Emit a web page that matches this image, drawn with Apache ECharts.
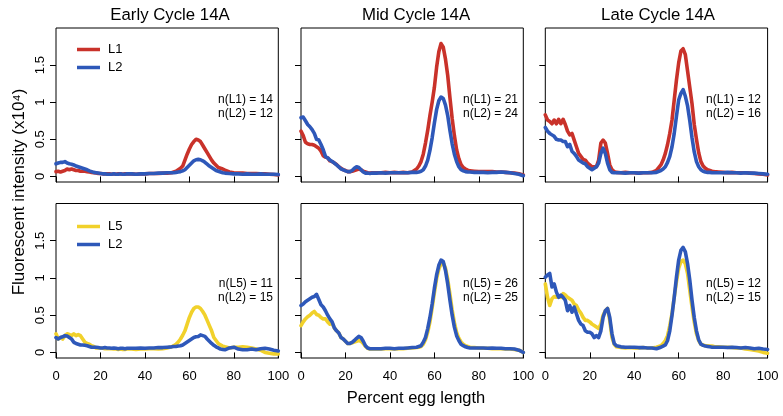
<!DOCTYPE html>
<html>
<head>
<meta charset="utf-8">
<script src="https://cdn.jsdelivr.net/npm/echarts@6/dist/echarts.min.js"></script>
<style>
html,body{margin:0;padding:0;background:#fff;}
#chart{width:783px;height:416px;}
</style>
</head>
<body>
<div id="chart"></div>
<script>
// Shared x grid (percent egg length)
const X = [0,1,2,3,4,5,6,7,8,9,10,11,12,13,14,15,16,17,18,19,20,21,22,23,24,25,26,27,28,29,30,31,32,
  34,36,38,40,42,44,46,48,50,
  52,53,54,55,56,57,58,59,60,61,62,63,64,65,66,67,68,69,70,71,72,73,74,75,76,
  78,80,82,84,86,88,90,92,94,96,98,100];

// Top row: L1 (red) vs L2 (blue)
const earlyTopL1 = [0.065,0.07,0.06,0.07,0.08,0.1,0.09,0.1,0.09,0.08,0.08,0.07,0.07,0.07,0.065,0.06,0.055,0.05,0.045,0.04,0.04,0.035,0.035,0.035,0.035,0.03,0.035,0.03,0.035,0.035,0.03,0.035,0.035,
  0.035,0.03,0.035,0.035,0.04,0.04,0.04,0.045,0.045,
  0.05,0.06,0.07,0.09,0.11,0.14,0.22,0.3,0.37,0.43,0.47,0.5,0.49,0.47,0.42,0.37,0.32,0.27,0.22,0.18,0.15,0.12,0.11,0.1,0.085,
  0.06,0.05,0.045,0.045,0.04,0.04,0.04,0.035,0.035,0.03,0.025,0.02];
const earlyTopL2 = [0.17,0.18,0.19,0.19,0.2,0.18,0.17,0.165,0.155,0.14,0.13,0.12,0.11,0.1,0.09,0.075,0.065,0.055,0.05,0.045,0.04,0.035,0.035,0.03,0.03,0.03,0.035,0.03,0.03,0.035,0.03,0.03,0.035,
  0.035,0.03,0.035,0.035,0.04,0.04,0.045,0.045,0.05,
  0.05,0.05,0.055,0.06,0.065,0.075,0.09,0.12,0.15,0.18,0.21,0.225,0.23,0.225,0.21,0.19,0.165,0.14,0.12,0.1,0.08,0.07,0.06,0.05,0.045,
  0.04,0.035,0.035,0.03,0.035,0.03,0.03,0.035,0.03,0.03,0.03,0.025];
const midTopL1 = [0.61,0.55,0.46,0.44,0.43,0.43,0.42,0.4,0.38,0.34,0.28,0.26,0.25,0.21,0.2,0.18,0.16,0.13,0.11,0.09,0.08,0.065,0.065,0.07,0.08,0.09,0.1,0.09,0.07,0.06,0.05,0.045,0.05,
  0.05,0.05,0.055,0.05,0.055,0.05,0.055,0.05,0.06,
  0.1,0.14,0.2,0.3,0.45,0.62,0.82,1.0,1.2,1.47,1.68,1.79,1.74,1.58,1.36,1.06,0.78,0.55,0.36,0.24,0.16,0.12,0.1,0.085,0.075,
  0.07,0.065,0.065,0.065,0.065,0.06,0.06,0.055,0.05,0.045,0.035,0.02];
const midTopL2 = [0.79,0.8,0.75,0.7,0.67,0.63,0.58,0.5,0.49,0.43,0.36,0.27,0.25,0.22,0.2,0.18,0.155,0.13,0.1,0.09,0.075,0.065,0.065,0.08,0.11,0.13,0.12,0.09,0.06,0.045,0.045,0.04,0.045,
  0.045,0.05,0.045,0.05,0.05,0.05,0.05,0.05,0.055,
  0.055,0.06,0.07,0.09,0.14,0.22,0.35,0.52,0.72,0.9,1.02,1.07,1.05,0.96,0.82,0.62,0.44,0.3,0.2,0.13,0.09,0.075,0.065,0.06,0.06,
  0.055,0.055,0.055,0.05,0.055,0.055,0.06,0.055,0.05,0.04,0.03,0.01];
const lateTopL1 = [0.83,0.76,0.74,0.71,0.76,0.71,0.77,0.71,0.77,0.7,0.61,0.56,0.58,0.49,0.4,0.31,0.27,0.23,0.22,0.18,0.155,0.13,0.13,0.13,0.22,0.45,0.49,0.45,0.31,0.155,0.09,0.065,0.055,
  0.05,0.055,0.05,0.05,0.045,0.05,0.05,0.055,0.08,
  0.155,0.22,0.31,0.43,0.58,0.76,1.03,1.3,1.53,1.69,1.72,1.64,1.42,1.2,0.98,0.7,0.5,0.32,0.2,0.14,0.11,0.09,0.08,0.07,0.065,
  0.06,0.055,0.05,0.055,0.05,0.05,0.05,0.045,0.04,0.035,0.03,0.02];
const lateTopL2 = [0.66,0.61,0.58,0.56,0.54,0.5,0.49,0.49,0.47,0.47,0.4,0.43,0.34,0.31,0.27,0.22,0.2,0.18,0.17,0.13,0.11,0.09,0.11,0.13,0.18,0.31,0.38,0.31,0.18,0.09,0.055,0.05,0.05,
  0.05,0.045,0.05,0.05,0.045,0.05,0.05,0.05,0.055,
  0.08,0.1,0.13,0.19,0.27,0.4,0.58,0.81,1.03,1.12,1.17,1.08,0.95,0.75,0.52,0.33,0.2,0.13,0.09,0.07,0.06,0.055,0.055,0.05,0.05,
  0.05,0.05,0.055,0.05,0.05,0.045,0.05,0.045,0.045,0.04,0.035,0.03];

// Bottom row: L5 (yellow) vs L2 (blue)
const earlyBotL5 = [0.25,0.18,0.2,0.18,0.225,0.25,0.24,0.225,0.25,0.225,0.24,0.225,0.18,0.135,0.12,0.11,0.09,0.08,0.06,0.06,0.06,0.055,0.05,0.05,0.05,0.05,0.045,0.045,0.04,0.045,0.04,0.04,0.045,
  0.045,0.04,0.045,0.045,0.05,0.05,0.045,0.05,0.06,
  0.075,0.09,0.11,0.14,0.18,0.23,0.29,0.38,0.47,0.54,0.59,0.61,0.61,0.59,0.55,0.5,0.43,0.36,0.29,0.2,0.16,0.12,0.1,0.085,0.075,
  0.06,0.07,0.07,0.075,0.07,0.06,0.045,0.03,0.0,-0.01,-0.02,-0.02];
const earlyBotL2 = [0.2,0.18,0.2,0.21,0.225,0.22,0.2,0.18,0.135,0.12,0.11,0.1,0.1,0.095,0.09,0.08,0.07,0.07,0.07,0.065,0.06,0.06,0.065,0.06,0.06,0.055,0.06,0.055,0.05,0.055,0.055,0.05,0.055,
  0.055,0.055,0.06,0.055,0.06,0.06,0.065,0.065,0.07,
  0.075,0.08,0.08,0.085,0.09,0.1,0.12,0.14,0.16,0.18,0.2,0.21,0.215,0.235,0.225,0.215,0.18,0.15,0.12,0.095,0.075,0.06,0.045,0.04,0.035,
  0.06,0.07,0.045,0.035,0.035,0.045,0.035,0.05,0.055,0.045,0.03,0.02];
const midBotL5 = [0.36,0.41,0.45,0.48,0.5,0.53,0.55,0.51,0.5,0.47,0.45,0.45,0.41,0.38,0.39,0.33,0.29,0.26,0.2,0.18,0.15,0.12,0.12,0.13,0.14,0.15,0.16,0.15,0.12,0.08,0.055,0.045,0.045,
  0.045,0.045,0.05,0.05,0.045,0.05,0.05,0.055,0.06,
  0.065,0.07,0.08,0.11,0.17,0.27,0.41,0.6,0.8,0.99,1.12,1.19,1.2,1.13,0.98,0.78,0.57,0.4,0.27,0.19,0.14,0.11,0.09,0.08,0.07,
  0.065,0.06,0.055,0.055,0.05,0.05,0.05,0.045,0.045,0.04,0.03,0.0];
const midBotL2 = [0.63,0.65,0.68,0.7,0.72,0.74,0.75,0.78,0.71,0.64,0.61,0.56,0.5,0.45,0.41,0.33,0.29,0.26,0.2,0.18,0.15,0.12,0.12,0.135,0.16,0.19,0.215,0.2,0.15,0.09,0.06,0.05,0.05,
  0.05,0.05,0.055,0.055,0.05,0.055,0.055,0.06,0.065,
  0.07,0.08,0.09,0.135,0.2,0.32,0.47,0.65,0.86,1.04,1.17,1.24,1.22,1.1,0.92,0.7,0.5,0.34,0.225,0.16,0.11,0.09,0.075,0.065,0.06,
  0.06,0.06,0.06,0.055,0.06,0.055,0.055,0.05,0.05,0.045,0.03,0.0];
const lateBotL5 = [0.92,0.74,0.63,0.72,0.75,0.74,0.75,0.74,0.79,0.77,0.74,0.72,0.7,0.65,0.63,0.57,0.53,0.47,0.43,0.43,0.41,0.38,0.36,0.34,0.32,0.38,0.5,0.56,0.59,0.43,0.2,0.11,0.075,
  0.065,0.06,0.065,0.06,0.06,0.065,0.06,0.06,0.07,
  0.09,0.12,0.16,0.225,0.36,0.52,0.74,0.95,1.13,1.22,1.24,1.19,1.06,0.83,0.61,0.41,0.25,0.16,0.11,0.1,0.09,0.09,0.085,0.085,0.08,
  0.075,0.07,0.07,0.065,0.06,0.06,0.045,0.04,0.03,0.02,0.0,-0.01];
const lateBotL2 = [1.01,1.04,1.06,0.88,0.92,0.81,0.74,0.77,0.74,0.7,0.56,0.63,0.54,0.61,0.52,0.43,0.38,0.36,0.29,0.27,0.27,0.25,0.2,0.225,0.2,0.29,0.47,0.56,0.59,0.47,0.25,0.12,0.09,
  0.075,0.07,0.07,0.07,0.065,0.065,0.06,0.06,0.05,
  0.07,0.085,0.1,0.16,0.29,0.5,0.74,1.01,1.24,1.37,1.41,1.35,1.19,0.97,0.7,0.47,0.29,0.17,0.11,0.095,0.085,0.08,0.075,0.07,0.07,
  0.07,0.07,0.065,0.07,0.065,0.06,0.065,0.06,0.05,0.055,0.045,0.04];

const panelTitles = ['Early Cycle 14A', 'Mid Cycle 14A', 'Late Cycle 14A'];
const nTop = [['n(L1) = 14', 'n(L2) = 12'], ['n(L1) = 21', 'n(L2) = 24'], ['n(L1) = 12', 'n(L2) = 16']];
const nBot = [['n(L5) = 11', 'n(L2) = 15'], ['n(L5) = 26', 'n(L2) = 25'], ['n(L5) = 12', 'n(L2) = 15']];
const yTickValues = [0, 0.5, 1, 1.5];
const xLabel = 'Percent egg length';
const yLabel = 'Fluorescent intensity (x10\u2074)';

const topData = [[earlyTopL1, earlyTopL2], [midTopL1, midTopL2], [lateTopL1, lateTopL2]];
const botData = [[earlyBotL5, earlyBotL2], [midBotL5, midBotL2], [lateBotL5, lateBotL2]];

const RED = '#c9322a', BLUE = '#2e58b9', YELLOW = '#f1d12b';
const FONT = '"Liberation Sans", Arial, Helvetica, sans-serif';
const lefts = [56, 301, 545.3];
const W = 222.3;
const rows = [{top: 28, height: 154}, {top: 203.5, height: 154.5}];

const grids = [], xAxes = [], yAxes = [], series = [];
rows.forEach((r, ri) => {
  lefts.forEach((l, ci) => {
    const gi = ri * 3 + ci;
    grids.push({left: l, top: r.top, width: W, height: r.height, show: true,
      borderColor: '#000', borderWidth: 1, backgroundColor: 'transparent', containLabel: false});
    xAxes.push({type: 'value', gridIndex: gi, min: 0, max: 100, interval: 20,
      axisLine: {show: false}, splitLine: {show: false},
      axisTick: {show: true, length: 6, lineStyle: {color: '#000', width: 1}},
      axisLabel: {show: ri === 1, margin: 12, fontSize: 13, color: '#000', fontFamily: FONT, showMinLabel: true, showMaxLabel: true}});
    yAxes.push({type: 'value', gridIndex: gi, min: -0.075, max: 2.0,
      axisLine: {show: false}, splitLine: {show: false},
      axisTick: {show: true, length: 6, customValues: yTickValues, lineStyle: {color: '#000', width: 1}},
      axisLabel: {show: ci === 0, customValues: yTickValues, rotate: 90, margin: 9, fontSize: 13, color: '#000', fontFamily: FONT,
        formatter: v => String(v)}});
    const pair = ri === 0 ? topData[ci] : botData[ci];
    const names = ri === 0 ? ['L1', 'L2'] : ['L5', 'L2'];
    const cols = ri === 0 ? [RED, BLUE] : [YELLOW, BLUE];
    pair.forEach((arr, k) => {
      series.push({type: 'line', name: names[k], xAxisIndex: gi, yAxisIndex: gi,
        data: X.map((x, i) => [x, arr[i]]), showSymbol: false, symbol: 'none',
        lineStyle: {color: cols[k], width: 3.6, join: 'round', cap: 'round'}, itemStyle: {color: cols[k]},
        animation: false, z: 2 + k});
    });
  });
});

const graphics = [];
const titleX = [170, 416, 658];
panelTitles.forEach((t, i) => graphics.push({type: 'text', x: titleX[i], y: 15.5,
  style: {text: t, fontSize: 16.8, fontFamily: FONT, fill: '#000', align: 'center', verticalAlign: 'middle'}}));
const nRight = [273, 518, 761];
nTop.forEach((p, i) => p.forEach((t, k) => graphics.push({type: 'text', x: nRight[i], y: 99.5 + 14.5 * k,
  style: {text: t, fontSize: 12, fontFamily: FONT, fill: '#000', align: 'right', verticalAlign: 'middle'}})));
nBot.forEach((p, i) => p.forEach((t, k) => graphics.push({type: 'text', x: nRight[i], y: 283.5 + 14.5 * k,
  style: {text: t, fontSize: 12, fontFamily: FONT, fill: '#000', align: 'right', verticalAlign: 'middle'}})));
graphics.push({type: 'text', x: 416, y: 398, style: {text: xLabel, fontSize: 16.5, fontFamily: FONT, fill: '#000', align: 'center', verticalAlign: 'middle'}});
graphics.push({type: 'text', x: 19, y: 192, rotation: Math.PI / 2, style: {text: yLabel, fontSize: 17, fontFamily: FONT, fill: '#000', align: 'center', verticalAlign: 'middle'}});

const legendCommon = {orient: 'vertical', icon: 'rect', itemWidth: 23, itemHeight: 3.5, itemGap: 5, padding: 0,
  selectedMode: false, textStyle: {fontSize: 13, color: '#000', fontFamily: FONT, padding: [0, 0, 0, 3]}};
const option = {
  animation: false,
  backgroundColor: '#fff',
  grid: grids, xAxis: xAxes, yAxis: yAxes, series: series,
  legend: [
    Object.assign({}, legendCommon, {left: 77, top: 43, data: ['L1', 'L2']}),
    Object.assign({}, legendCommon, {left: 77, top: 220, data: ['L5', {name: 'L2'}]})
  ],
  graphic: graphics
};
const chart = echarts.init(document.getElementById('chart'), null, {renderer: 'canvas'});
chart.setOption(option);
</script>
</body>
</html>
